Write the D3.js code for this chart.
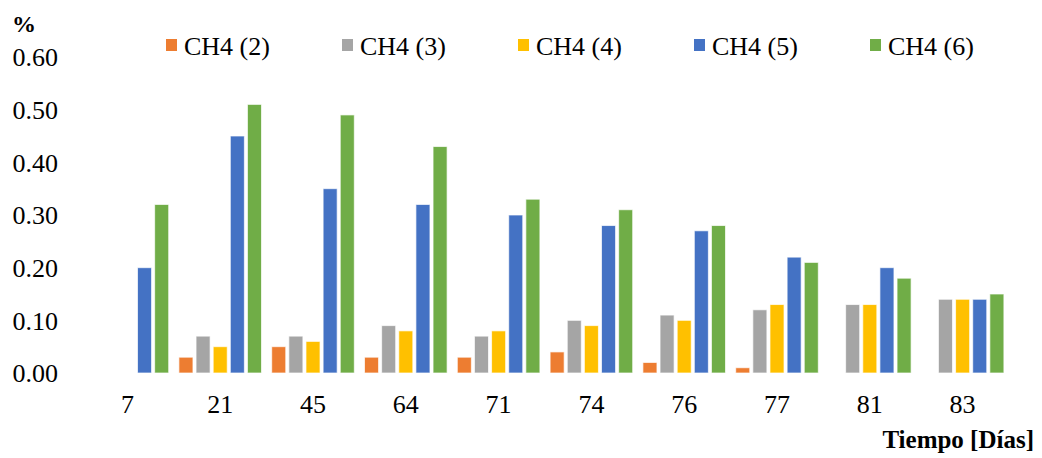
<!DOCTYPE html>
<html>
<head>
<meta charset="utf-8">
<script src="https://cdn.jsdelivr.net/npm/d3@7"></script>
<style>
  html, body { margin: 0; padding: 0; background: #fff; }
  svg { display: block; }
  svg text { font-family: "Liberation Serif", "Times New Roman", "DejaVu Serif", serif; fill: #000; }
</style>
</head>
<body>
<svg id="chart" width="1042" height="458"></svg>
<script>
// Días de muestreo
const categories = ["7", "21", "45", "64", "71", "74", "76", "77", "81", "83"];
// Series de metano (%)
const seriesNames = ["CH4 (2)", "CH4 (3)", "CH4 (4)", "CH4 (5)", "CH4 (6)"];
const ch4_2 = [0, 0.03, 0.05, 0.03, 0.03, 0.04, 0.02, 0.01, 0, 0];
const ch4_3 = [0, 0.07, 0.07, 0.09, 0.07, 0.10, 0.11, 0.12, 0.13, 0.14];
const ch4_4 = [0, 0.05, 0.06, 0.08, 0.08, 0.09, 0.10, 0.13, 0.13, 0.14];
const ch4_5 = [0.20, 0.45, 0.35, 0.32, 0.30, 0.28, 0.27, 0.22, 0.20, 0.14];
const ch4_6 = [0.32, 0.51, 0.49, 0.43, 0.33, 0.31, 0.28, 0.21, 0.18, 0.15];
const yTicks = [0, 0.1, 0.2, 0.3, 0.4, 0.5, 0.6];

const seriesValues = [ch4_2, ch4_3, ch4_4, ch4_5, ch4_6];
const colors = ["#ED7D31", "#A5A5A5", "#FFC000", "#4472C4", "#70AD47"];

const svg = d3.select("#chart");

const x0 = d3.scaleBand().domain(categories).range([81, 1009]).paddingInner(0.11).paddingOuter(0.055);
const x1 = d3.scaleBand().domain(seriesNames).range([0, x0.bandwidth()]).paddingInner(0.18);
const y = d3.scaleLinear().domain([0, 0.6]).range([373, 57]);

// Barras
const groups = svg.append("g").selectAll("g")
  .data(categories)
  .join("g")
  .attr("transform", d => `translate(${x0(d)},0)`);

groups.selectAll("rect")
  .data((c, i) => seriesNames.map((s, k) => ({ s, k, v: seriesValues[k][i] })))
  .join("rect")
  .filter(d => d.v > 0)
  .attr("x", d => x1(d.s))
  .attr("y", d => y(d.v))
  .attr("width", x1.bandwidth())
  .attr("height", d => y(0) - y(d.v))
  .attr("fill", d => colors[d.k])
  .attr("stroke", "#ffffff")
  .attr("stroke-opacity", 0.7)
  .attr("stroke-width", 1);

const serif = '"Liberation Serif", "Times New Roman", "DejaVu Serif", serif';

// Eje Y
const yAxis = d3.axisLeft(y).tickValues(yTicks).tickFormat(d3.format(".2f")).tickSize(0).tickPadding(0);
svg.append("g")
  .attr("transform", "translate(58,0)")
  .call(yAxis)
  .call(g => g.select(".domain").remove())
  .call(g => g.attr("font-family", null).attr("font-size", null))
  .call(g => g.selectAll("text")
    .attr("dy", "0.34em")
    .style("font-family", serif)
    .style("font-size", "26px")
    .style("fill", "#000"));

// Eje X
const xAxis = d3.axisBottom(x0).tickSize(0).tickPadding(0);
svg.append("g")
  .attr("transform", "translate(0,413)")
  .call(xAxis)
  .call(g => g.select(".domain").remove())
  .call(g => g.attr("font-family", null).attr("font-size", null))
  .call(g => g.selectAll("text")
    .attr("dy", null)
    .attr("y", 0)
    .style("font-family", serif)
    .style("font-size", "26px")
    .style("fill", "#000"));

// Títulos de ejes
svg.append("text")
  .attr("x", 12).attr("y", 32)
  .style("font-size", "24px").style("font-weight", "bold")
  .text("%");

svg.append("text")
  .attr("x", 1034).attr("y", 448)
  .attr("text-anchor", "end")
  .style("font-size", "25px").style("font-weight", "bold")
  .text("Tiempo [Días]");

// Leyenda
const legend = svg.append("g").selectAll("g")
  .data(seriesNames)
  .join("g")
  .attr("transform", (d, i) => `translate(${166 + i * 176},0)`);

legend.append("rect")
  .attr("x", 0).attr("y", 39)
  .attr("width", 11).attr("height", 12)
  .attr("fill", (d, i) => colors[i]);

legend.append("text")
  .attr("x", 18).attr("y", 55)
  .style("font-size", "26px")
  .text(d => d);
</script>
</body>
</html>
